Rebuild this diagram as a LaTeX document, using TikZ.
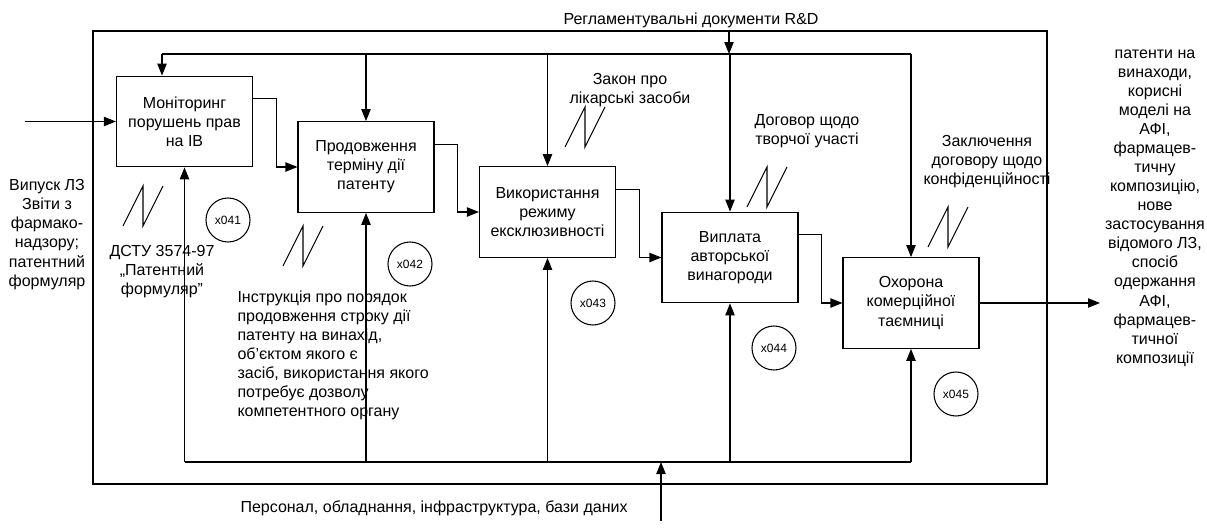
\documentclass[tikz,border=0pt]{standalone}
\usepackage{fontspec}
\setmainfont{Liberation Sans}
\usetikzlibrary{arrows.meta}
\newcommand{\zigzagmark}[1]{\draw (#1) -- ++(20,-40) -- ++(0,40) -- ++(20,-40);}
\begin{document}
\begin{tikzpicture}[x=0.75pt,y=-0.75pt,line width=0.8pt,
        every node/.style={font=\fontsize{12pt}{14.3pt}\selectfont},
        box/.style={draw,minimum width=102pt,minimum height=68pt,align=center,inner sep=0pt},
        lbl/.style={align=center,inner sep=0pt},
        tag/.style={draw,circle,minimum size=33pt,inner sep=0pt,font=\fontsize{9pt}{11pt}\selectfont},
        arr/.style={-{Triangle[length=9pt,width=7pt]}}]
        \useasboundingbox (0,0) rectangle (1207,529);
        \draw (93,31) rectangle (1047,484);
        % functional blocks
        \node[box] (mon) at (184.5,121.5) {Моніторинг\\порушень прав\\на ІВ};
        \node[box] (prod) at (366,167) {Продовження\\терміну дії\\патенту};
        \node[box] (vyk) at (547.5,212) {Використання\\режиму\\ексклюзивності};
        \node[box] (vypl) at (730,257.5) {Виплата\\авторської\\винагороди};
        \node[box] (okh) at (911,303) {Охорона\\комерційної\\таємниці};
        \node[tag] (t041) at (228,220) {x041};
        \node[tag] (t042) at (410,264) {x042};
        \node[tag] (t043) at (593,303) {x043};
        \node[tag] (t044) at (774,348) {x044};
        \node[tag] (t045) at (956,394) {x045};
        % labels
        \node[lbl,anchor=west] (reg) at (563,20) {Регламентувальні документи R\&D};
        \node[lbl,anchor=west] (pers) at (240,508) {Персонал, обладнання, інфраструктура, бази даних};
        \node[lbl] (vyp) at (47,234.5) {Випуск ЛЗ\\Звіти з\\фармако-\\надзору;\\патентний\\формуляр};
        \node[lbl] (pat) at (1155,208) {патенти на\\винаходи,\\корисні\\моделі на\\АФІ,\\фармацев-\\тичну\\композицію,\\нове\\застосування\\відомого ЛЗ,\\спосіб\\одержання\\АФІ,\\фармацев-\\тичної\\композиції};
        \node[lbl] (dstu) at (162,272) {ДСТУ 3574-97\\„Патентний\\формуляр”};
        \node[lbl,align=left,anchor=west] (instr) at (237,355.5) {Інструкція про порядок\\продовження строку дії\\патенту на винахід,\\об'єктом якого є\\засіб, використання якого\\потребує дозволу\\компетентного органу};
        \node[lbl] (zakon) at (630,90) {Закон про\\лікарські засоби};
        \node[lbl] (dog) at (807,131) {Договор щодо\\творчої участі};
        \node[lbl] (zakl) at (987,162) {Заключення\\договору щодо\\конфіденційності};
        \zigzagmark{123,226}
        \zigzagmark{283,266}
        \zigzagmark{565,147}
        \zigzagmark{747,207}
        \zigzagmark{928,247}
        % control bus
        \coordinate (ctlin) at (729,31);
        \coordinate (busL) at (162,54);
        \coordinate (busR) at (911,54);
        \draw[arr] (ctlin) -- (ctlin |- busL);
        \draw (busL) -- (busR);
        \draw[arr] (busL) -- (busL |- mon.north);
        \draw[arr] (prod.north |- busL) -- (prod.north);
        \draw[arr] (vyk.north |- busL) -- (vyk.north);
        \draw[arr] (vypl.north |- busL) -- (vypl.north);
        \draw[arr] (busR) -- (okh.north);
        % mechanism bus
        \coordinate (mechin) at (661,521);
        \coordinate (mbL) at (184.5,462);
        \coordinate (mbR) at (911,462);
        \draw[arr] (mechin) -- (mechin |- mbL);
        \draw (mbL) -- (mbR);
        \draw[arr] (mbL) -- (mon.south);
        \draw[arr] (prod.south |- mbL) -- (prod.south);
        \draw[arr] (vyk.south |- mbL) -- (vyk.south);
        \draw[arr] (vypl.south |- mbL) -- (vypl.south);
        \draw[arr] (mbR) -- (okh.south);
        % input, flow, output
        \coordinate (inp) at (25,121.5);
        \coordinate (outp) at (1100,303);
        \draw[arr] (inp) -- (mon.west);
        \draw[arr] ([yshift=17pt]mon.east) -- ++(23,0) |- (prod.west);
        \draw[arr] ([yshift=17pt]prod.east) -- ++(23,0) |- (vyk.west);
        \draw[arr] ([yshift=17pt]vyk.east) -- ++(23,0) |- (vypl.west);
        \draw[arr] ([yshift=17pt]vypl.east) -- ++(23,0) |- (okh.west);
        \draw[arr] (okh.east) -- (outp);
\end{tikzpicture}
\end{document}
